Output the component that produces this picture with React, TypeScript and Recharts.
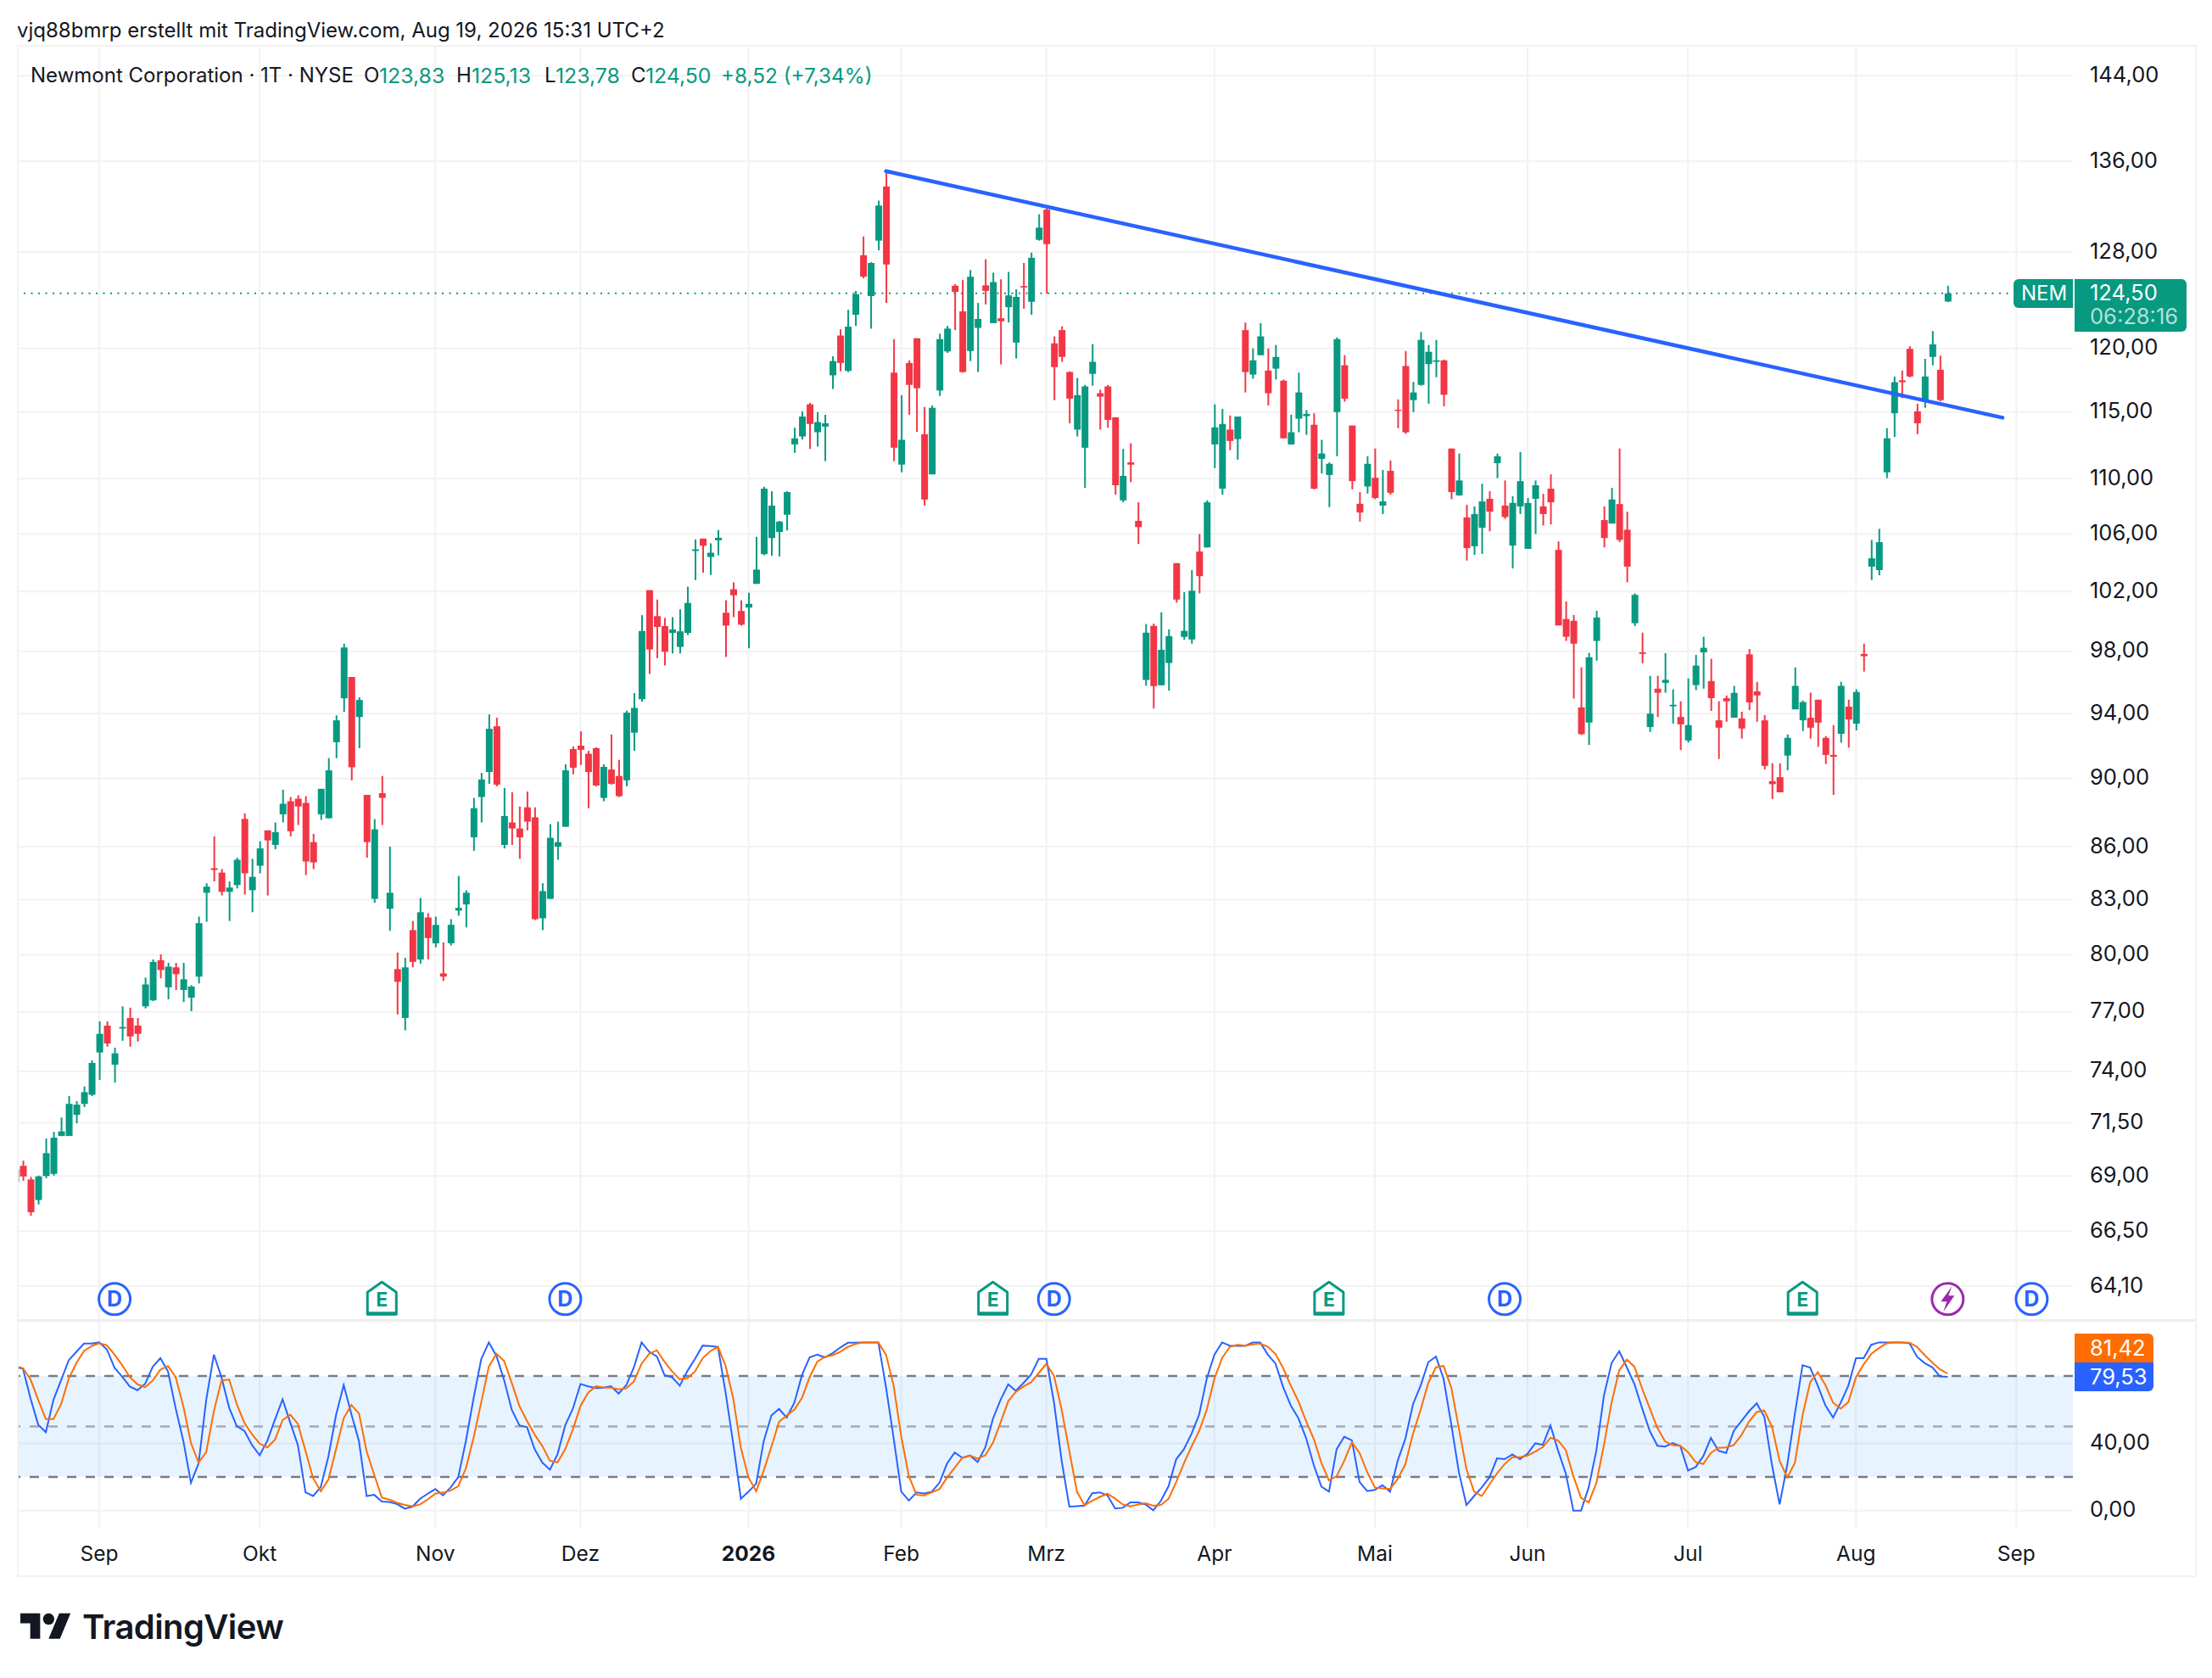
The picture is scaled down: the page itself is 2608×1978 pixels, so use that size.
import React from 'react';
import {
  ComposedChart,
  Bar,
  Cell,
  Line,
  XAxis,
  YAxis,
  CartesianGrid,
  ReferenceLine,
  ReferenceArea,
  ReferenceDot,
} from 'recharts';

const opens = [
  68.72, 69.47, 68.84, 67.9, 69.0, 69.1, 70.87, 70.87, 71.88, 72.41,
  72.85, 74.94, 76.3, 74.33, 76.15, 76.69, 76.3, 77.29, 77.6, 79.71,
  78.28, 79.33, 78.14, 77.74, 78.84, 83.39, 84.77, 84.52, 83.44, 83.82,
  87.61, 83.53, 84.91, 86.94, 86.1, 87.88, 88.65, 88.8, 88.55, 86.26,
  87.88, 87.65, 92.22, 94.97, 96.33, 93.79, 89.03, 83.05, 89.13, 82.5,
  79.24, 76.69, 81.33, 79.75, 82.02, 80.62, 79.01, 80.62, 82.4, 82.74,
  86.54, 88.9, 90.4, 93.21, 86.1, 87.4, 87.05, 88.29, 87.7, 81.98,
  83.05, 86.0, 87.15, 91.8, 92.01, 91.51, 91.85, 88.85, 90.55, 90.16,
  89.9, 92.81, 94.91, 102.09, 100.33, 99.67, 99.21, 98.29, 99.21, 104.8,
  105.67, 104.38, 105.55, 100.56, 102.15, 100.68, 100.91, 102.52, 104.58, 105.71,
  106.14, 107.37, 112.54, 113.14, 115.6, 113.46, 113.89, 117.86, 121.04, 118.21,
  122.73, 127.72, 124.27, 128.97, 133.74, 118.07, 111.03, 118.84, 120.82, 113.31,
  110.31, 116.67, 119.76, 125.14, 123.01, 119.79, 121.66, 125.17, 122.04, 122.45,
  123.36, 120.47, 125.11, 123.8, 129.04, 131.67, 120.41, 121.48, 118.12, 113.66,
  112.29, 117.98, 116.46, 116.99, 114.6, 108.41, 111.2, 106.93, 96.14, 99.68,
  95.8, 97.24, 103.95, 98.95, 98.78, 104.76, 105.05, 112.54, 109.26, 113.66,
  112.94, 121.48, 117.92, 119.46, 118.24, 118.39, 117.44, 112.54, 114.49, 114.69,
  114.03, 111.46, 110.26, 115.0, 118.66, 113.97, 108.16, 109.42, 110.06, 108.03,
  110.57, 115.18, 118.6, 115.92, 117.11, 118.75, 118.93, 119.05, 112.23, 108.77,
  107.18, 105.13, 106.44, 108.52, 111.14, 108.03, 105.18, 107.97, 104.95, 108.52,
  107.97, 109.26, 104.87, 100.14, 100.02, 94.39, 93.44, 98.68, 106.99, 106.74,
  108.14, 106.3, 99.86, 97.93, 93.16, 95.58, 95.95, 94.46, 93.79, 92.33,
  95.81, 97.93, 96.07, 93.58, 94.98, 93.74, 93.7, 97.8, 95.41, 93.58,
  89.85, 90.09, 91.4, 94.27, 93.58, 93.74, 94.88, 92.49, 91.44, 92.74,
  94.44, 93.37, 97.83, 103.71, 103.47, 110.46, 114.91, 117.47, 119.97, 115.06,
  115.8, 119.32, 118.3, 123.83,
];

const closes = [
  69.32, 68.98, 67.35, 68.98, 70.06, 70.79, 71.09, 72.41, 72.37, 72.98,
  74.42, 75.88, 75.4, 74.9, 76.23, 75.75, 75.88, 78.43, 79.62, 79.19,
  79.37, 78.97, 78.7, 78.32, 81.71, 83.73, 84.67, 83.44, 83.68, 85.25,
  84.48, 84.28, 85.9, 86.36, 86.84, 88.5, 86.89, 88.34, 85.15, 85.1,
  89.39, 90.5, 93.58, 98.25, 90.69, 94.86, 86.26, 87.0, 88.85, 83.39,
  78.57, 79.33, 79.62, 82.31, 80.9, 81.62, 78.84, 81.62, 82.55, 83.39,
  88.24, 89.95, 93.05, 89.64, 87.78, 87.05, 86.54, 87.45, 81.93, 83.48,
  86.51, 86.26, 90.5, 90.66, 91.75, 90.4, 89.59, 90.71, 89.69, 88.95,
  94.06, 94.36, 99.34, 98.12, 99.61, 97.97, 99.44, 99.32, 101.22, 104.92,
  105.16, 104.68, 105.73, 99.7, 101.74, 99.76, 101.16, 103.5, 109.26, 108.03,
  106.88, 109.01, 113.0, 114.66, 114.09, 114.23, 114.14, 118.99, 118.84, 121.76,
  124.43, 125.9, 127.06, 132.03, 126.93, 112.29, 112.89, 117.11, 116.85, 108.47,
  115.33, 120.75, 121.6, 124.62, 118.12, 125.9, 122.39, 124.71, 125.45, 122.2,
  124.33, 124.21, 124.99, 127.5, 130.1, 128.67, 118.51, 119.32, 116.04, 116.31,
  116.99, 118.93, 116.19, 114.4, 109.51, 110.2, 111.03, 106.49, 99.23, 95.75,
  98.1, 99.0, 101.45, 99.35, 102.05, 103.05, 108.27, 113.83, 114.09, 112.8,
  114.66, 118.12, 119.05, 120.97, 116.46, 119.32, 113.0, 113.46, 116.52, 114.86,
  109.26, 111.86, 111.09, 120.75, 116.04, 109.81, 107.53, 111.09, 108.58, 108.33,
  108.96, 115.09, 113.46, 116.52, 120.69, 119.73, 119.05, 116.34, 109.01, 109.86,
  105.0, 107.42, 108.33, 107.59, 111.66, 107.21, 108.22, 109.81, 108.22, 109.51,
  107.42, 108.27, 99.71, 98.96, 98.5, 92.72, 97.61, 100.24, 105.71, 108.47,
  105.58, 103.71, 101.77, 97.83, 94.0, 95.32, 96.15, 94.56, 93.33, 93.28,
  97.07, 98.23, 94.98, 93.12, 94.78, 95.32, 93.07, 94.71, 95.15, 90.77,
  89.67, 89.18, 92.49, 95.76, 94.73, 93.12, 93.44, 91.44, 91.33, 95.76,
  93.63, 95.37, 97.68, 104.29, 105.42, 113.0, 117.32, 117.32, 117.77, 114.14,
  117.77, 120.33, 115.92, 124.5,
];

const highs = [
  69.4, 69.71, 68.96, 69.02, 70.75, 71.07, 71.75, 72.79, 72.54, 73.26,
  74.55, 76.52, 76.52, 75.18, 77.29, 77.22, 76.69, 78.79, 79.75, 80.02,
  79.57, 79.57, 79.57, 78.39, 82.07, 83.92, 86.59, 84.72, 84.02, 85.37,
  87.94, 85.3, 86.31, 86.94, 87.4, 89.34, 88.9, 89.0, 88.95, 86.74,
  89.39, 91.25, 93.89, 98.5, 96.33, 95.03, 89.03, 87.6, 90.16, 86.0,
  80.12, 79.84, 81.83, 83.1, 82.26, 82.07, 80.67, 81.93, 84.33, 83.53,
  88.85, 90.34, 93.95, 93.74, 89.44, 89.18, 88.34, 89.23, 88.29, 83.92,
  87.3, 87.45, 90.87, 91.96, 92.89, 91.69, 91.91, 90.87, 92.7, 91.14,
  94.19, 95.3, 100.4, 102.09, 101.45, 100.21, 100.27, 100.79, 102.33, 105.61,
  105.67, 105.34, 106.28, 101.4, 102.63, 101.4, 101.91, 105.79, 109.4, 109.07,
  106.93, 109.07, 113.8, 115.06, 115.71, 115.0, 114.8, 119.37, 121.54, 123.14,
  124.71, 129.33, 127.12, 132.47, 135.13, 120.75, 116.31, 119.05, 120.82, 115.39,
  115.51, 121.19, 121.82, 125.27, 125.61, 126.46, 123.71, 127.37, 126.24, 125.68,
  126.3, 124.84, 127.06, 127.94, 131.27, 132.03, 120.97, 121.79, 118.18, 117.65,
  117.11, 120.35, 116.73, 117.11, 114.6, 112.2, 112.63, 108.27, 99.81, 99.83,
  100.59, 99.45, 103.95, 101.95, 103.47, 106.0, 108.41, 115.6, 115.24, 114.74,
  114.66, 122.1, 120.0, 122.04, 120.0, 120.28, 117.53, 114.8, 118.07, 115.15,
  114.91, 112.89, 111.2, 120.89, 119.46, 113.97, 109.01, 111.66, 112.23, 110.63,
  111.34, 115.98, 119.79, 117.35, 121.32, 120.28, 120.69, 119.11, 112.23, 111.86,
  108.08, 107.97, 109.62, 109.07, 111.86, 109.86, 108.71, 111.97, 108.58, 109.86,
  108.88, 110.31, 105.47, 101.32, 100.41, 96.95, 97.9, 100.69, 107.97, 109.31,
  112.23, 107.59, 101.87, 99.23, 96.41, 96.41, 97.88, 95.54, 94.78, 96.24,
  97.76, 98.96, 97.51, 94.78, 95.15, 95.76, 94.12, 98.15, 96.02, 93.91,
  90.93, 90.93, 92.7, 96.95, 94.83, 95.32, 94.88, 92.6, 93.28, 96.02,
  94.88, 95.54, 98.5, 105.58, 106.36, 113.77, 117.77, 118.24, 120.18, 115.65,
  119.17, 121.4, 119.43, 125.13,
];

const lows = [
  68.7, 68.78, 67.19, 67.7, 68.9, 69.02, 70.87, 70.87, 71.48, 72.26,
  72.79, 73.58, 75.23, 73.45, 75.53, 75.23, 75.49, 77.18, 77.56, 78.75,
  77.65, 78.14, 77.51, 77.04, 78.48, 81.79, 84.02, 83.24, 81.83, 83.63,
  83.29, 82.31, 84.48, 83.24, 85.85, 87.4, 86.59, 87.25, 84.38, 84.72,
  87.55, 87.65, 91.24, 94.11, 89.9, 91.85, 85.37, 82.83, 87.25, 81.29,
  76.87, 76.06, 79.33, 79.53, 79.75, 80.4, 78.61, 80.5, 82.12, 81.48,
  85.76, 87.4, 89.69, 89.54, 85.9, 86.1, 85.3, 86.94, 81.88, 81.33,
  83.05, 85.25, 87.15, 90.26, 90.82, 88.24, 89.54, 88.65, 89.64, 88.9,
  89.54, 91.69, 94.75, 96.53, 97.55, 97.08, 97.86, 97.86, 99.07, 102.78,
  103.29, 103.14, 104.5, 97.63, 100.27, 99.7, 98.2, 102.52, 104.5, 104.47,
  104.42, 106.25, 111.91, 112.91, 112.2, 112.37, 111.29, 116.79, 118.18, 118.12,
  121.82, 125.77, 121.6, 128.13, 123.71, 111.29, 110.46, 114.8, 113.49, 108.03,
  110.31, 116.25, 119.64, 121.48, 118.07, 118.99, 118.12, 123.58, 122.04, 118.72,
  122.1, 119.2, 123.23, 122.73, 128.97, 124.49, 115.92, 118.93, 114.14, 113.14,
  109.31, 117.05, 113.66, 113.8, 108.82, 108.27, 109.73, 105.29, 95.77, 94.32,
  95.8, 95.45, 101.24, 98.76, 98.5, 101.87, 105.05, 110.77, 108.82, 112.11,
  111.4, 116.52, 117.59, 119.46, 115.51, 117.53, 113.0, 112.54, 113.46, 113.26,
  109.21, 110.37, 107.92, 111.66, 115.8, 109.21, 106.88, 108.9, 108.49, 107.42,
  108.82, 113.77, 113.34, 115.0, 117.05, 115.65, 117.71, 115.45, 108.49, 108.74,
  104.13, 104.53, 104.6, 106.19, 110.03, 107.07, 103.58, 107.42, 104.95, 106.0,
  106.6, 106.68, 99.71, 98.68, 94.95, 92.67, 92.05, 97.39, 105.05, 106.74,
  105.42, 102.63, 99.66, 97.22, 92.86, 93.79, 95.32, 93.37, 91.74, 92.21,
  95.49, 95.58, 94.17, 91.19, 93.49, 93.74, 92.44, 94.22, 93.49, 90.56,
  88.78, 89.18, 90.51, 94.27, 92.91, 92.44, 91.93, 90.88, 89.03, 92.19,
  91.88, 92.95, 96.68, 102.79, 103.11, 110.03, 113.11, 116.07, 117.71, 113.31,
  115.33, 118.66, 115.83, 123.78,
];

// stochastic RSI, %K and %D
const kLine = [
  85.2, 84.4, 66.7, 51.1, 46.6, 65.9, 77.6, 89.4, 94.4, 99.3,
  99.3, 100, 95.8, 84.9, 79.6, 73.8, 71.6, 75.4, 85.5, 90.6,
  82.7, 60.8, 41.5, 16.6, 28.1, 65.9, 92.7, 79.3, 61.2, 50.2,
  47.4, 39.0, 32.9, 41.5, 54.1, 66.2, 52.4, 39.0, 10.9, 8.7,
  14.1, 32.3, 57.0, 74.6, 57.5, 41.2, 8.7, 9.4, 5.4, 5.2,
  3.9, 1.2, 2.4, 7.1, 10.1, 12.9, 9.1, 13.8, 20.0, 41.5,
  66.7, 89.9, 100, 91.9, 77.6, 60.0, 50.7, 49.6, 36.5, 28.6,
  24.4, 33.6, 50.7, 60.5, 75.3, 73.9, 72.9, 73.1, 73.9, 69.6,
  74.6, 85.2, 100, 94.4, 91.7, 80.6, 79.3, 74.3, 83.0, 90.2,
  98.1, 97.8, 97.3, 70.1, 39.8, 7.1, 11.3, 16.0, 41.5, 56.6,
  60.5, 55.3, 64.2, 80.6, 91.1, 92.7, 91.1, 93.6, 96.9, 99.8,
  99.8, 100, 100, 100, 73.4, 43.2, 11.3, 6.0, 10.8, 10.2,
  11.3, 16.6, 28.1, 34.6, 31.4, 32.8, 28.9, 37.6, 54.6, 65.9,
  75.1, 71.2, 75.9, 81.0, 90.2, 90.2, 64.2, 29.7, 2.4, 2.7,
  3.0, 10.4, 10.9, 9.1, 1.3, 1.7, 4.9, 4.9, 3.7, 0.2,
  5.9, 14.6, 30.6, 36.5, 45.7, 57.1, 78.5, 92.7, 100, 98.1,
  97.9, 97.9, 100, 100, 92.7, 87.4, 73.4, 62.5, 54.9, 43.2,
  27.2, 14.3, 11.3, 36.5, 44.0, 41.8, 17.1, 11.6, 12.4, 15.1,
  11.3, 29.7, 42.7, 63.3, 74.3, 88.2, 91.6, 78.5, 51.6, 23.0,
  3.4, 8.7, 13.8, 19.7, 31.1, 30.6, 33.4, 30.6, 33.9, 40.0,
  39.1, 50.7, 35.6, 22.2, 0, 0, 13.8, 35.6, 68.4, 87.7,
  94.8, 85.2, 75.1, 60.8, 47.4, 38.6, 38.1, 40.2, 38.5, 23.9,
  25.9, 32.3, 43.2, 35.6, 34.3, 47.4, 53.3, 59.1, 63.8, 55.8,
  27.2, 3.7, 27.2, 57.5, 86.4, 85.0, 74.3, 62.5, 55.3, 64.2,
  74.3, 90.6, 90.6, 98.6, 100, 100, 100, 100, 99.5, 91.4,
  87.7, 85.2, 79.8, 79.53,
];

const dLine = [
  86.0, 84.7, 78.0, 65.9, 54.4, 54.4, 63.3, 78.5, 87.7, 94.9,
  97.8, 99.5, 98.3, 92.7, 86.4, 79.3, 75.1, 73.4, 77.3, 83.8,
  86.0, 79.3, 62.2, 40.2, 28.6, 34.8, 59.1, 77.3, 78.0, 63.3,
  52.1, 45.4, 39.8, 37.6, 42.3, 53.8, 57.0, 51.6, 35.6, 19.2,
  11.6, 18.5, 36.5, 54.9, 62.8, 57.8, 35.3, 21.3, 7.7, 6.6,
  4.7, 3.4, 2.5, 3.7, 6.7, 10.1, 10.8, 11.9, 14.6, 25.2,
  43.2, 64.2, 85.7, 93.2, 89.0, 75.9, 62.2, 53.3, 45.2, 38.5,
  29.7, 28.7, 36.5, 48.2, 62.2, 70.1, 73.9, 73.2, 73.1, 72.1,
  72.7, 76.8, 87.4, 93.2, 95.3, 88.5, 82.7, 78.1, 78.8, 82.7,
  90.6, 94.8, 97.4, 86.0, 66.7, 37.3, 19.7, 11.6, 23.9, 38.1,
  52.8, 56.6, 60.0, 67.0, 79.3, 88.5, 91.4, 92.4, 94.4, 97.3,
  99.0, 100, 100, 100, 92.7, 74.3, 44.0, 20.5, 9.4, 9.1,
  10.9, 12.8, 19.7, 25.5, 31.4, 32.8, 30.9, 32.9, 40.3, 52.4,
  65.0, 70.6, 73.8, 76.3, 81.8, 87.2, 80.1, 60.0, 35.6, 11.3,
  3.2, 5.9, 8.2, 10.1, 7.1, 3.7, 2.5, 3.7, 4.4, 2.9,
  3.4, 7.1, 17.1, 28.1, 38.1, 47.4, 60.0, 78.5, 90.7, 97.3,
  98.6, 98.1, 98.8, 99.3, 97.4, 93.1, 84.7, 74.3, 65.0, 53.3,
  42.7, 28.6, 18.0, 20.5, 29.7, 40.7, 34.3, 23.0, 13.8, 13.3,
  12.9, 18.8, 27.6, 45.7, 60.0, 75.9, 85.2, 86.0, 73.4, 49.1,
  24.7, 11.3, 8.7, 15.5, 22.2, 27.7, 31.8, 31.8, 32.8, 35.1,
  37.8, 43.3, 41.7, 36.1, 20.5, 7.6, 4.9, 16.3, 39.0, 64.2,
  83.5, 89.7, 85.5, 72.6, 60.8, 49.1, 41.2, 39.0, 38.6, 34.8,
  28.9, 27.7, 34.3, 37.3, 37.6, 39.0, 44.9, 52.9, 58.6, 59.5,
  49.9, 29.7, 19.7, 28.4, 56.6, 76.3, 82.3, 74.6, 64.2, 60.6,
  64.5, 79.3, 86.9, 93.2, 96.6, 99.5, 100, 100, 99.8, 97.3,
  92.4, 88.0, 84.0, 81.42,
];

const priceTicks = [144, 136, 128, 120, 115, 110, 106, 102, 98, 94, 90, 86, 83, 80, 77, 74, 71.5, 69, 66.5, 64.1];
const stochTicks = [0, 40];
const monthIdx = [11, 32, 55, 74, 96, 116, 135, 157, 178, 198, 219, 241, 262];
const monthNames = ['Sep', 'Okt', 'Nov', 'Dez', '2026', 'Feb', 'Mrz', 'Apr', 'Mai', 'Jun', 'Jul', 'Aug', 'Sep'];

const trendLine = [
  { i: 114, trend: 135.1 },
  { i: 260.2, trend: 114.57 },
];
const dividendIdx = [13, 72, 136, 195, 264];
const earningsIdx = [48, 128, 172, 234];
const newsIdx = [253];
const lastPrice = 124.5;
const markerPrice = 63.55;

const GREEN = '#089981';
const RED = '#F23645';
const BLUE = '#2962FF';
const ORANGE = '#FF6D00';
const GRID = '#F2F2F2';
const TEXT = '#131722';
const FONT = 'Inter, sans-serif';
const AXIS_SIZE = 25.5;

const xDomain: [number, number] = [0.22, 269.4];
const comma = (v: number) => v.toFixed(2).replace('.', ',');

const candles = opens.map((o, i) => ({
  i,
  wick: [lows[i], highs[i]],
  body: [Math.min(o, closes[i]), Math.max(o, closes[i])],
  up: closes[i] >= o,
}));
const stoch = kLine.map((k, i) => ({ i, k, d: dLine[i] }));

const DividendMark = ({ cx, cy }: any) => (
  <g>
    <circle cx={cx} cy={cy} r={18.5} fill="#fff" stroke={BLUE} strokeWidth={3} />
    <text x={cx} y={cy + 9} textAnchor="middle" fontSize={25} fontWeight={700} fontFamily={FONT} fill={BLUE}>D</text>
  </g>
);

const EarningsMark = ({ cx, cy }: any) => (
  <g>
    <path
      d={`M${cx - 17} ${cy + 18} V${cy - 8} L${cx} ${cy - 20} L${cx + 17} ${cy - 8} V${cy + 18} Z`}
      fill="#fff"
      stroke={GREEN}
      strokeWidth={3}
      strokeLinejoin="round"
    />
    <rect x={cx - 17} y={cy + 15} width={34} height={4} fill={GREEN} />
    <text x={cx} y={cy + 9} textAnchor="middle" fontSize={23} fontWeight={700} fontFamily={FONT} fill={GREEN}>E</text>
  </g>
);

const NewsMark = ({ cx, cy }: any) => (
  <g>
    <circle cx={cx} cy={cy} r={18.5} fill="#fff" stroke="#9C27B0" strokeWidth={3} />
    <path
      d={`M${cx + 5} ${cy - 15} L${cx - 8} ${cy + 3} H${cx - 1} L${cx - 5} ${cy + 15} L${cx + 8} ${cy - 4} H${cx + 1} Z`}
      fill="#9C27B0"
    />
  </g>
);

const MonthTick = ({ x, y, payload }: any) => {
  const pos = monthIdx.indexOf(payload.value);
  const name = monthNames[pos];
  return (
    <text
      x={x}
      y={y + 30}
      textAnchor="middle"
      fontFamily={FONT}
      fontSize={24.5}
      fontWeight={name === '2026' ? 700 : 400}
      fill={TEXT}
    >
      {name}
    </text>
  );
};

const Txt = ({ x, y, color = TEXT, size = 24, weight = 400, spacing = 0, children }: any) => (
  <div
    style={{
      position: 'absolute',
      left: x,
      top: y,
      transform: 'translateY(-50%)',
      color,
      fontSize: size,
      fontWeight: weight,
      letterSpacing: spacing,
      fontFamily: FONT,
      whiteSpace: 'nowrap',
      lineHeight: 1,
    }}
  >
    {children}
  </div>
);

const Box = ({ x, y, w, h, color, radius = 0 }: any) => (
  <div style={{ position: 'absolute', left: x, top: y, width: w, height: h, background: color, borderRadius: radius }} />
);

export default function App() {
  return (
    <div style={{ position: 'absolute', left: 0, top: 0, width: 2608, height: 1978, background: '#fff', overflow: 'hidden' }}>
      <Txt x={20} y={36}>vjq88bmrp erstellt mit TradingView.com, Aug 19, 2026 15:31 UTC+2</Txt>

      <div style={{ position: 'absolute', left: 0, top: 0 }}>
        <ComposedChart
          width={2608}
          height={1557}
          data={candles}
          margin={{ top: 53, right: 0, bottom: 0, left: 20 }}
        >
          <XAxis xAxisId="wick" dataKey="i" type="number" domain={xDomain} ticks={monthIdx} allowDataOverflow hide />
          <XAxis xAxisId="body" dataKey="i" type="number" domain={xDomain} ticks={monthIdx} allowDataOverflow hide />
          <YAxis
            orientation="right"
            width={164}
            scale="log"
            domain={[62.63, 147]}
            ticks={priceTicks}
            interval={0}
            allowDataOverflow
            axisLine={false}
            tickLine={false}
            tickSize={0}
            tickMargin={20}
            tickFormatter={comma}
            tick={{ fill: TEXT, fontSize: AXIS_SIZE, fontFamily: FONT, dy: -1.5 }}
          />
          <CartesianGrid xAxisId="wick" stroke={GRID} strokeWidth={2} horizontalValues={priceTicks} verticalValues={monthIdx} />
          <Bar xAxisId="wick" dataKey="wick" barSize={2} isAnimationActive={false}>
            {candles.map((c) => (
              <Cell key={`w-${c.i}`} fill={c.up ? GREEN : RED} />
            ))}
          </Bar>
          <Bar xAxisId="body" dataKey="body" barSize={8} isAnimationActive={false}>
            {candles.map((c) => (
              <Cell key={`b-${c.i}`} fill={c.up ? GREEN : RED} />
            ))}
          </Bar>
          <ReferenceLine xAxisId="wick" y={lastPrice} stroke={GREEN} strokeWidth={2} strokeDasharray="2 6.5" />
          <Line
            xAxisId="wick"
            data={trendLine}
            dataKey="trend"
            stroke={BLUE}
            strokeWidth={4.5}
            strokeLinecap="round"
            dot={false}
            isAnimationActive={false}
          />
          {dividendIdx.map((i) => (
            <ReferenceDot key={`d-${i}`} xAxisId="wick" x={i} y={markerPrice} shape={(p: any) => <DividendMark cx={p.cx} cy={p.cy} />} />
          ))}
          {earningsIdx.map((i) => (
            <ReferenceDot key={`e-${i}`} xAxisId="wick" x={i} y={markerPrice} shape={(p: any) => <EarningsMark cx={p.cx} cy={p.cy} />} />
          ))}
          {newsIdx.map((i) => (
            <ReferenceDot key={`n-${i}`} xAxisId="wick" x={i} y={markerPrice} shape={(p: any) => <NewsMark cx={p.cx} cy={p.cy} />} />
          ))}
        </ComposedChart>
      </div>

      <div style={{ position: 'absolute', left: 0, top: 1557 }}>
        <ComposedChart
          width={2608}
          height={300}
          data={stoch}
          margin={{ top: 0, right: 0, bottom: 0, left: 20 }}
        >
          <XAxis
            dataKey="i"
            type="number"
            domain={xDomain}
            ticks={monthIdx}
            interval={0}
            allowDataOverflow
            height={55}
            axisLine={false}
            tickLine={false}
            tick={<MonthTick />}
          />
          <YAxis
            orientation="right"
            width={164}
            domain={[-10.7, 112.8]}
            ticks={stochTicks}
            interval={0}
            allowDataOverflow
            axisLine={false}
            tickLine={false}
            tickSize={0}
            tickMargin={20}
            tickFormatter={comma}
            tick={{ fill: TEXT, fontSize: AXIS_SIZE, fontFamily: FONT, dy: -1.5 }}
          />
          <CartesianGrid stroke={GRID} strokeWidth={2} horizontalValues={stochTicks} verticalValues={monthIdx} />
          <ReferenceArea y1={20} y2={80} fill="#2196F3" fillOpacity={0.11} stroke="none" />
          <ReferenceLine y={80} stroke="#787B86" strokeWidth={2.5} strokeDasharray="11 11" />
          <ReferenceLine y={50} stroke="#787B86" strokeOpacity={0.6} strokeWidth={2.5} strokeDasharray="11 11" />
          <ReferenceLine y={20} stroke="#787B86" strokeWidth={2.5} strokeDasharray="11 11" />
          <Line dataKey="k" stroke={BLUE} strokeWidth={2} dot={false} isAnimationActive={false} />
          <Line dataKey="d" stroke={ORANGE} strokeWidth={2} dot={false} isAnimationActive={false} />
        </ComposedChart>
      </div>

      {/* pane frame */}
      <div style={{ position: 'absolute', left: 20, top: 53, width: 2566, height: 1802, border: `2px solid ${GRID}`, pointerEvents: 'none' }} />
      <Box x={20} y={1555} w={2568} h={3} color="#EEEEEE" />

      {/* legend */}
      <Txt x={36} y={89}>Newmont Corporation · 1T · NYSE</Txt>
      <Txt x={429} y={89}>O</Txt>
      <Txt x={447} y={89} color={GREEN} size={24.8}>123,83</Txt>
      <Txt x={538} y={89}>H</Txt>
      <Txt x={556} y={89} color={GREEN} size={24.8}>125,13</Txt>
      <Txt x={642} y={89}>L</Txt>
      <Txt x={655} y={89} color={GREEN} size={24.8}>123,78</Txt>
      <Txt x={744} y={89}>C</Txt>
      <Txt x={761} y={89} color={GREEN} size={24.8}>124,50</Txt>
      <Txt x={850} y={89} color={GREEN} size={24.3}>+8,52 (+7,34%)</Txt>

      {/* last price labels */}
      <Box x={2374} y={329} w={70} h={34} color={GREEN} radius="6px 0 0 6px" />
      <Txt x={2383} y={346} color="#fff">NEM</Txt>
      <Box x={2446} y={329} w={132} h={62} color={GREEN} radius="0 6px 6px 0" />
      <Txt x={2464} y={345} color="#fff" size={AXIS_SIZE}>124,50</Txt>
      <Txt x={2464} y={373} color="#B5E0D8" size={AXIS_SIZE}>06:28:16</Txt>
      <Box x={2446} y={1572} w={93} h={34} color={ORANGE} radius="0 6px 0 0" />
      <Txt x={2464} y={1589} color="#fff" size={AXIS_SIZE}>81,42</Txt>
      <Box x={2446} y={1606} w={93} h={34} color={BLUE} radius="0 0 6px 0" />
      <Txt x={2464} y={1623} color="#fff" size={AXIS_SIZE}>79,53</Txt>

      {/* logo */}
      <svg style={{ position: 'absolute', left: 24, top: 1895 }} width={60} height={47} viewBox="0 0 36 28">
        <path d="M14 22H7V11H0V4h14v18zM28 22h-8l7.5-18h8L28 22z" fill={TEXT} />
        <circle cx={20} cy={8} r={4} fill={TEXT} />
      </svg>
      <Txt x={97} y={1918} size={40} weight={600} spacing={-0.6}>TradingView</Txt>
    </div>
  );
}
